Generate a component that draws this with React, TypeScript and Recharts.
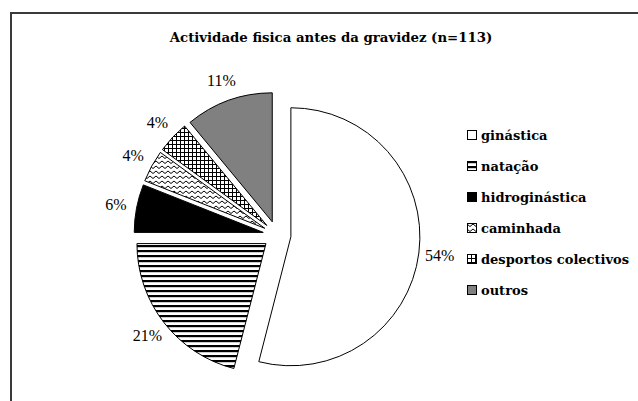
import React from "react";
import { PieChart, Pie, Cell } from "recharts";

const categories = [
  "ginástica",
  "natação",
  "hidroginástica",
  "caminhada",
  "desportos colectivos",
  "outros",
];
const percentages = [54, 21, 6, 4, 4, 11];
const fills = [
  "#ffffff",
  "url(#patNatacao)",
  "#000000",
  "url(#patCaminhada)",
  "url(#patDesportos)",
  "#808080",
];
const title = "Actividade fisica antes da gravidez (n=113)";

const RAD = Math.PI / 180;
const CX = 277;
const CY = 235;
const R = 129;
const EXPLODE = 14;

const rows = categories.map((name, i) => ({ name, value: percentages[i] }));

// middle angle of each slice (recharts angles, clockwise from 12 o'clock)
const total = percentages.reduce((a, b) => a + b, 0);
let cum = 0;
const mids = percentages.map((v) => {
  const s = 90 - (360 * cum) / total;
  cum += v;
  const e = 90 - (360 * cum) / total;
  return (s + e) / 2;
});

const Patterns = () => (
  <svg width={0} height={0} style={{ position: "absolute" }}>
    <defs>
      <pattern id="patNatacao" patternUnits="userSpaceOnUse" width={6} height={5}>
        <rect width={6} height={5} fill="#fff" />
        <rect width={6} height={2.2} fill="#000" />
      </pattern>
      <pattern id="patCaminhada" patternUnits="userSpaceOnUse" width={6} height={5}>
        <rect width={6} height={5} fill="#fff" />
        <path d="M0 1 L3 3.5 L6 1" stroke="#000" strokeWidth={1} fill="none" />
      </pattern>
      <pattern id="patDesportos" patternUnits="userSpaceOnUse" width={4} height={4}>
        <rect width={4} height={4} fill="#fff" />
        <rect width={4} height={1} fill="#000" />
        <rect width={1} height={4} fill="#000" />
      </pattern>
    </defs>
  </svg>
);

const makeLabel = (own: number) => (props: any) => {
  if (props.index !== own) return <g />;
  const r = props.outerRadius + 21;
  const x = props.cx + r * Math.cos(-props.midAngle * RAD);
  const y = props.cy + r * Math.sin(-props.midAngle * RAD);
  return (
    <text
      x={x}
      y={y}
      textAnchor="middle"
      dominantBaseline="central"
      fill="#000"
      fontSize={16}
      fontFamily="'Liberation Serif', 'Times New Roman', serif"
    >
      {`${percentages[own]}%`}
    </text>
  );
};

export default function App() {
  return (
    <div
      style={{
        position: "absolute",
        left: 0,
        top: 0,
        width: 638,
        height: 401,
        overflow: "hidden",
        background: "#fff",
      }}
    >
      <Patterns />
      <div
        style={{
          position: "absolute",
          left: 10,
          top: 12,
          width: 700,
          height: 500,
          border: "2px solid #3a3a3a",
        }}
      />
      <div
        style={{
          position: "absolute",
          left: 0,
          top: 28,
          width: 662,
          textAlign: "center",
          fontFamily: "'DejaVu Serif', serif",
          fontWeight: "bold",
          fontSize: 13.3,
          lineHeight: "20px",
        }}
      >
        {title}
      </div>
      <div style={{ position: "absolute", left: 0, top: 0 }}>
        <PieChart width={638} height={401} margin={{ top: 0, right: 0, bottom: 0, left: 0 }}>
          {categories.map((_, i) => (
            <Pie
              key={i}
              data={rows}
              dataKey="value"
              nameKey="name"
              cx={CX + EXPLODE * Math.cos(mids[i] * RAD)}
              cy={CY - EXPLODE * Math.sin(mids[i] * RAD)}
              outerRadius={R}
              innerRadius={0}
              startAngle={90}
              endAngle={-270}
              label={makeLabel(i)}
              labelLine={false}
              isAnimationActive={false}
            >
              {rows.map((_, j) => (
                <Cell
                  key={j}
                  fill={j === i ? fills[j] : "none"}
                  stroke={j === i ? "#000" : "none"}
                  strokeWidth={1}
                />
              ))}
            </Pie>
          ))}
        </PieChart>
      </div>
      <div style={{ position: "absolute", left: 467, top: 120 }}>
        {categories.map((name, i) => (
          <div
            key={name}
            style={{
              display: "flex",
              alignItems: "center",
              height: 31,
              fontFamily: "'DejaVu Serif', serif",
              fontWeight: "bold",
              fontSize: 13,
              whiteSpace: "nowrap",
            }}
          >
            <svg width={11} height={11} style={{ marginRight: 3 }}>
              <rect x={0.5} y={0.5} width={9} height={9} fill={fills[i]} stroke="#000" />
            </svg>
            {name}
          </div>
        ))}
      </div>
    </div>
  );
}
